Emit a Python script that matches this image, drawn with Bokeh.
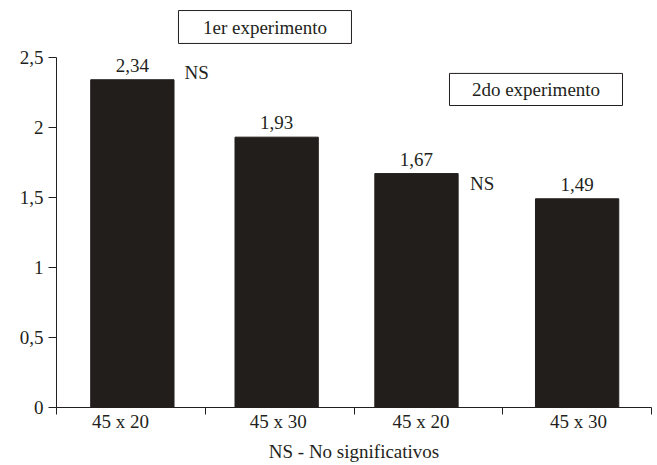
from bokeh.plotting import figure
from bokeh.models import Range1d, FixedTicker, BoxAnnotation, Label
from bokeh.embed import file_html
from bokeh.resources import INLINE
from bokeh.core.properties import value

# --- data -------------------------------------------------------------
categories = ["45 x 20", "45 x 30", "45 x 20", "45 x 30"]
rendimiento = [2.34, 1.93, 1.67, 1.49]
value_labels = ["2,34", "1,93", "1,67", "1,49"]
y_ticks = [0, 0.5, 1, 1.5, 2, 2.5]
y_tick_labels = ["0", "0,5", "1", "1,5", "2", "2,5"]
experiments = ["1er experimento", "2do experimento"]
ns_text = "NS"
x_title = "NS - No significativos"

# --- layout (one x unit per group) -------------------------------------
bar_x = [0.51, 1.48, 2.42, 3.50]
label_x = [0.43, 1.49, 2.45, 3.51]
group_edges = [0, 1, 2, 3, 4]
bar_width = 0.56

FONT_NAME = "Liberation Serif"
INK = "#231f20"
BAR = "#221e1c"
FS = "19px"

p = figure(width=657, height=465,
           x_range=Range1d(0, 4), y_range=Range1d(0, 2.87),
           output_backend="svg", toolbar_location=None,
           min_border_left=56, min_border_right=6,
           min_border_top=5, min_border_bottom=58)

p.xgrid.visible = False
p.ygrid.visible = False
p.outline_line_color = None
p.background_fill_color = "white"
p.border_fill_color = "white"

# bars
p.vbar(x=bar_x, top=rendimiento, bottom=0, width=bar_width,
       fill_color=BAR, line_color=BAR)

# value labels above the bars
p.text(x=bar_x, y=rendimiento, text=value_labels,
       text_align="center", text_baseline="bottom", y_offset=-8,
       text_font=value(FONT_NAME), text_font_size=FS, text_color=INK)

# "NS" marks next to the first bar of each experiment
for xi, yi in [(bar_x[0] + bar_width / 2 + 0.07, 2.39),
               (bar_x[2] + bar_width / 2 + 0.08, 1.60)]:
    p.add_layout(Label(x=xi, y=yi, text=ns_text, text_align="left",
                       text_baseline="middle", text_font=FONT_NAME,
                       text_font_size=FS, text_color=INK))

# experiment captions in framed boxes
for (l, r, t, b), name in zip([(0.82, 1.983, 2.834, 2.599),
                               (2.642, 3.805, 2.385, 2.156)], experiments):
    p.add_layout(BoxAnnotation(left=l, right=r, top=t, bottom=b,
                               fill_color="white", fill_alpha=1,
                               line_color=INK, line_alpha=1, line_width=1))
    p.add_layout(Label(x=(l + r) / 2, y=(t + b) / 2, text=name,
                       text_align="center", text_baseline="middle",
                       text_font=FONT_NAME, text_font_size=FS,
                       text_color=INK))

# x axis: labels under the bars, ticks on the group boundaries
xa = p.xaxis[0]
xa.ticker = FixedTicker(ticks=label_x, minor_ticks=group_edges)
xa.major_label_overrides = {x: c for x, c in zip(label_x, categories)}
xa.major_tick_out = 0
xa.major_tick_in = 0
xa.minor_tick_out = 7
xa.minor_tick_in = 0
xa.minor_tick_line_color = INK
xa.axis_line_color = INK
xa.major_label_standoff = -4
xa.major_label_text_font = FONT_NAME
xa.major_label_text_font_size = FS
xa.major_label_text_color = INK
xa.axis_label = x_title
xa.axis_label_standoff = 6
xa.axis_label_text_font = FONT_NAME
xa.axis_label_text_font_size = FS
xa.axis_label_text_font_style = "normal"
xa.axis_label_text_color = INK

# y axis
ya = p.yaxis[0]
ya.ticker = FixedTicker(ticks=y_ticks)
ya.major_label_overrides = {t: s for t, s in zip(y_ticks, y_tick_labels)}
ya.bounds = (0, 2.5)
ya.major_tick_out = 8
ya.major_tick_in = 0
ya.minor_tick_out = 0
ya.minor_tick_in = 0
ya.major_tick_line_color = INK
ya.axis_line_color = INK
ya.major_label_standoff = 5
ya.major_label_text_font = FONT_NAME
ya.major_label_text_font_size = FS
ya.major_label_text_color = INK

open("out.html", "w").write(file_html(p, INLINE))
